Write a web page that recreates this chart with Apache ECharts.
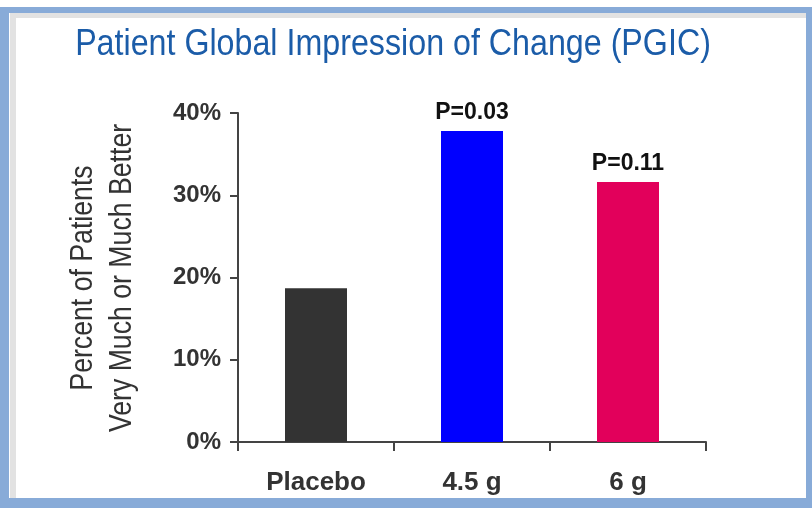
<!DOCTYPE html>
<html>
<head>
<meta charset="utf-8">
<script src="https://cdn.jsdelivr.net/npm/echarts@6/dist/echarts.min.js"></script>
<style>
html,body{margin:0;padding:0;background:#fff;}
#chart{width:812px;height:508px;}
</style>
</head>
<body>
<div id="chart"></div>
<script>
var categories = ['Placebo', '4.5 g', '6 g'];
var values = [18.7, 37.8, 31.6];
var pLabels = ['', 'P=0.03', 'P=0.11'];
var barColors = ['#333333', '#0000ff', '#e2005b'];
var yTitleLines = ['Percent of Patients', 'Very Much or Much Better'];
var titleText = 'Patient Global Impression of Change (PGIC)';

var chart = echarts.init(document.getElementById('chart'), null, {renderer: 'canvas'});

var borderGraphics = [
  {type:'rect', shape:{x:0,y:7,width:812,height:6}, style:{fill:'#88abd8'}, silent:true},
  {type:'rect', shape:{x:0,y:7,width:9,height:501}, style:{fill:'#88abd8'}, silent:true},
  {type:'rect', shape:{x:0,y:498,width:812,height:10}, style:{fill:'#88abd8'}, silent:true},
  {type:'rect', shape:{x:806,y:7,width:6,height:501}, style:{fill:'#88abd8'}, silent:true},
  {type:'rect', shape:{x:10,y:13,width:796,height:5}, style:{fill:'#e2e2e2'}, silent:true},
  {type:'rect', shape:{x:10,y:13,width:6,height:485}, style:{fill:'#e2e2e2'}, silent:true}
];

var option = {
  animation: false,
  backgroundColor: '#ffffff',
  graphic: borderGraphics.concat([
    {type:'text', x:393, y:45, scaleX:0.895, style:{text:titleText, font:'36px "Liberation Sans", Arial, sans-serif', fill:'#1b5ca8', textAlign:'center', textVerticalAlign:'middle'}},
    {type:'text', x:83, y:278, rotation:Math.PI/2, scaleX:0.86, style:{text:yTitleLines[0], font:'31px "Liberation Sans", Arial, sans-serif', fill:'#333', textAlign:'center', textVerticalAlign:'middle'}},
    {type:'text', x:122, y:278, rotation:Math.PI/2, scaleX:0.86, style:{text:yTitleLines[1], font:'31px "Liberation Sans", Arial, sans-serif', fill:'#333', textAlign:'center', textVerticalAlign:'middle'}}
  ]),
  grid: {left: 238, right: 106, top: 113, bottom: 66},
  xAxis: {
    type: 'category',
    data: categories,
    axisLine: {lineStyle: {color: '#444', width: 2}},
    axisTick: {show: true, length: 9, lineStyle: {color: '#444', width: 2}},
    axisLabel: {margin: 28, fontFamily: 'Liberation Sans, Arial, sans-serif', fontSize: 26, fontWeight: 'bold', color: '#333'}
  },
  yAxis: {
    type: 'value', min: 0, max: 40, interval: 10,
    splitLine: {show: false},
    axisLine: {show: true, lineStyle: {color: '#444', width: 2}},
    axisTick: {show: true, length: 8, lineStyle: {color: '#444', width: 2}},
    axisLabel: {formatter: '{value}%', margin: 17, fontFamily: 'Liberation Sans, Arial, sans-serif', fontSize: 24, fontWeight: 'bold', color: '#333'}
  },
  series: [{
    type: 'bar',
    barWidth: 62,
    data: values.map(function(v, i){
      return {
        value: v,
        itemStyle: {color: barColors[i]},
        label: {show: pLabels[i] !== '', position: 'top', distance: 7, formatter: pLabels[i], fontFamily: 'Liberation Sans, Arial, sans-serif', fontSize: 23, fontWeight: 'bold', color: '#111'}
      };
    })
  }]
};
chart.setOption(option);
</script>
</body>
</html>
